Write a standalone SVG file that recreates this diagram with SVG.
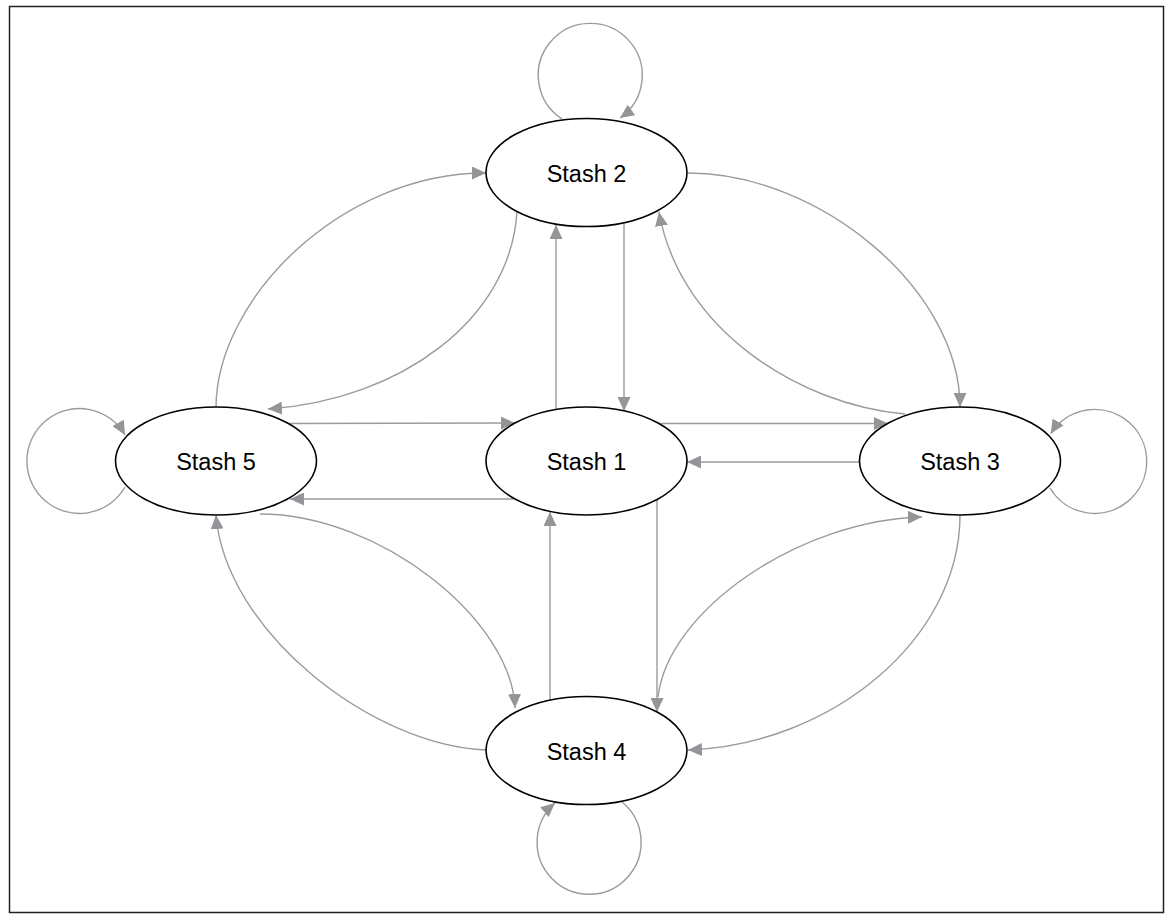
<svg xmlns="http://www.w3.org/2000/svg" width="1174" height="924" viewBox="0 0 1174 924">
<style>
.node ellipse{fill:#ffffff;stroke:#000000;stroke-width:1.6}
.node text{font-family:"Liberation Sans",Arial,sans-serif;font-size:23.5px;fill:#000000;text-anchor:middle}
.edge{fill:none;stroke:#9b9b9b;stroke-width:1.4;marker-end:url(#arr)}
</style>
<defs>
<marker id="arr" markerUnits="userSpaceOnUse" viewBox="0 0 14 13" markerWidth="14" markerHeight="13" refX="14" refY="6.5" orient="auto">
<path d="M0,0 L14,6.5 L0,13 Z" fill="#939598"/>
</marker>
</defs>
<rect x="9.5" y="6.5" width="1154" height="906" fill="#ffffff" stroke="#222222" stroke-width="1.5"/>
<g id="connectors">
<path class="edge" d="M562,119 A52,52 0 1 1 620,118"/>
<path class="edge" d="M125,487 A52.5,52.5 0 1 1 125,435"/>
<path class="edge" d="M1050,488 A52,52 0 1 0 1050.7,433.7"/>
<path class="edge" d="M622,802 A52,52 0 1 1 555,803"/>
<path class="edge" d="M624,223 L624,411"/>
<path class="edge" d="M556,409 L556,225"/>
<path class="edge" d="M287,423.5 L515,423"/>
<path class="edge" d="M513,499 L290,499"/>
<path class="edge" d="M658,423.5 L888,423.5"/>
<path class="edge" d="M859,462 L687,462"/>
<path class="edge" d="M657,500 L657,712"/>
<path class="edge" d="M550,700 L550,512"/>
<path class="edge" d="M216,408 C216,300 340,173 486,173"/>
<path class="edge" d="M517,212 C510,320 400,400 268,409"/>
<path class="edge" d="M688,173 C820,173 960,290 960,407"/>
<path class="edge" d="M905,414 C800,405 680,330 659,212"/>
<path class="edge" d="M260,514 C380,514 512,620 515,708"/>
<path class="edge" d="M486,750 C370,745 225,630 216,515"/>
<path class="edge" d="M658,697 C668,610 800,520 922,517"/>
<path class="edge" d="M960,515 C960,640 830,745 688,750"/>
</g>
<g id="stash1" class="node"><ellipse cx="586.5" cy="461" rx="100.5" ry="54"/><text x="586.5" y="470">Stash 1</text></g>
<g id="stash2" class="node"><ellipse cx="586.5" cy="172.5" rx="100.5" ry="54"/><text x="586.5" y="181.5">Stash 2</text></g>
<g id="stash3" class="node"><ellipse cx="960" cy="461" rx="100.5" ry="54"/><text x="960" y="470">Stash 3</text></g>
<g id="stash4" class="node"><ellipse cx="586.5" cy="750.5" rx="100.5" ry="54"/><text x="586.5" y="759.5">Stash 4</text></g>
<g id="stash5" class="node"><ellipse cx="216" cy="461" rx="100.5" ry="54"/><text x="216" y="470">Stash 5</text></g>
</svg>
